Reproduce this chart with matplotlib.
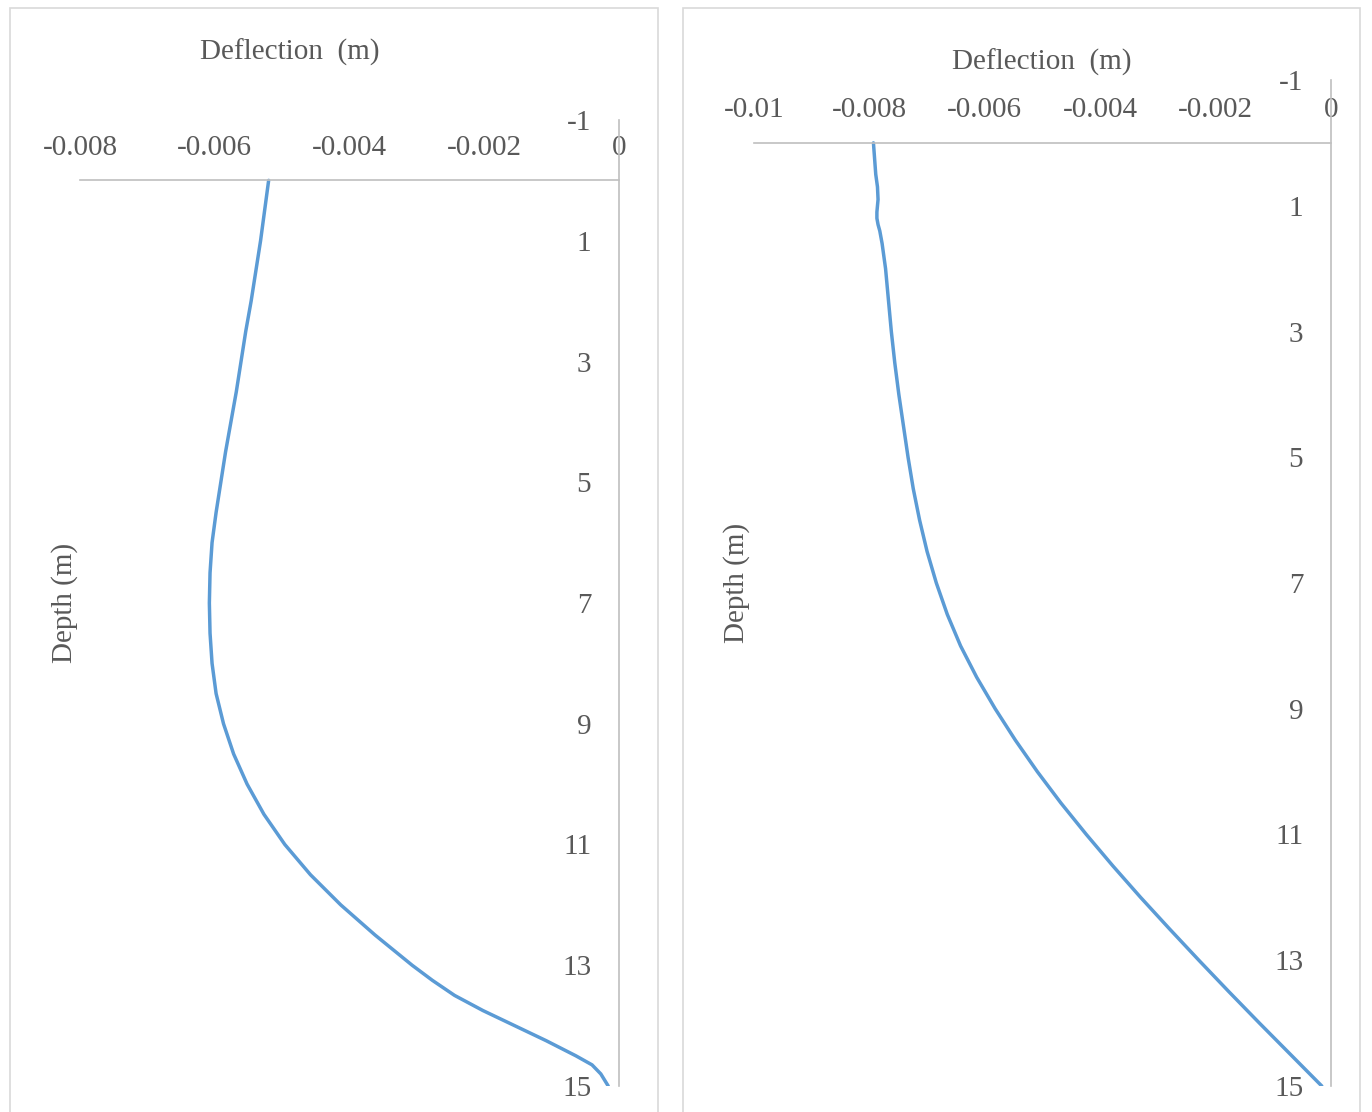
import matplotlib
matplotlib.use("Agg")
import matplotlib.pyplot as plt
from matplotlib.patches import Rectangle

# Pile deflection profiles (deflection in metres, depth in metres)
depth_a = [0, 0.5, 1, 1.5, 2, 2.5, 3, 3.5, 4, 4.5, 5, 5.5, 6, 6.5, 7, 7.5, 8,
           8.5, 9, 9.5, 10, 10.5, 11, 11.5, 12, 12.5, 13, 13.25, 13.5, 13.75,
           14, 14.25, 14.5, 14.65, 14.8, 15]
defl_a = [-0.00520, -0.00526, -0.00532, -0.00539, -0.00546, -0.00554, -0.00561,
          -0.00568, -0.00576, -0.00584, -0.00591, -0.00598, -0.00604, -0.00607,
          -0.00608, -0.00607, -0.00604, -0.00598, -0.00587, -0.00572, -0.00552,
          -0.00527, -0.00496, -0.00458, -0.00413, -0.00362, -0.00307, -0.00277,
          -0.00244, -0.00202, -0.00155, -0.00108, -0.00064, -0.00040, -0.00027,
          -0.00016]

depth_b = [0, 0.5, 0.7, 0.9, 1.0, 1.1, 1.2, 1.3, 1.4, 1.6, 1.8, 2, 2.5, 3, 3.5,
           4, 4.5, 5, 5.5, 6, 6.5, 7, 7.5, 8, 8.5, 9, 9.5, 10, 10.5, 11, 11.5,
           12, 12.5, 13, 13.5, 14, 14.5, 15]
defl_b = [-0.00793, -0.00789, -0.00786, -0.00785, -0.00786, -0.00787, -0.00787,
          -0.00785, -0.00782, -0.00778, -0.00775, -0.00772, -0.00767, -0.00762,
          -0.00756, -0.00749, -0.00741, -0.00733, -0.00724, -0.00713, -0.00700,
          -0.00684, -0.00665, -0.00642, -0.00614, -0.00582, -0.00547, -0.00509,
          -0.00468, -0.00424, -0.00378, -0.00330, -0.00280, -0.00229, -0.00177,
          -0.00124, -0.00070, -0.00016]

xticks_a = [-0.008, -0.006, -0.004, -0.002, 0]
xticks_b = [-0.01, -0.008, -0.006, -0.004, -0.002, 0]
xlabels_a = ["-0.008", "-0.006", "-0.004", "-0.002", "0"]
xlabels_b = ["-0.01", "-0.008", "-0.006", "-0.004", "-0.002", "0"]
yticks = [-1, 1, 3, 5, 7, 9, 11, 13, 15]
ylabels = ["-1", "1", "3", "5", "7", "9", "11", "13", "15"]

plt.rcParams["font.family"] = ["Liberation Serif", "DejaVu Serif"]
TXT = "#595959"
AX = "#bfbfbf"
LINE = "#5b9bd5"
FS = 21

W, H = 1372, 1112
fig = plt.figure(figsize=(W / 100, H / 100), dpi=100)

# chart frames
for x0, x1 in [(10, 658), (683, 1360)]:
    fig.add_artist(Rectangle((x0 / W, -0.05), (x1 - x0) / W, (H - 8) / H + 0.05,
                             transform=fig.transFigure, fill=False,
                             edgecolor="#d9d9d9", linewidth=1.2))


def panel(px0, px1, py_top, py_bot, xmin, depth, defl, xticks, xlabels,
          xlab_pos, ylab_pos):
    ax = fig.add_axes([px0 / W, (H - py_bot) / H, (px1 - px0) / W,
                       (py_bot - py_top) / H])
    ax.plot(defl, depth, color=LINE, linewidth=2.5, solid_capstyle="round",
            solid_joinstyle="round")
    ax.set_xlim(xmin, 0)
    ax.set_ylim(15, -1)
    for s in ("bottom", "right"):
        ax.spines[s].set_visible(False)
    ax.spines["top"].set_position(("data", 0))
    ax.spines["left"].set_position(("data", 0))
    for s in ("top", "left"):
        ax.spines[s].set_color(AX)
        ax.spines[s].set_linewidth(1.2)
    ax.xaxis.tick_top()
    ax.set_xticks(xticks)
    ax.set_xticklabels(xlabels)
    ax.set_yticks(yticks)
    ax.set_yticklabels(ylabels)
    ax.tick_params(axis="x", length=0, pad=14, labelsize=FS, labelcolor=TXT)
    ax.tick_params(axis="y", length=0, pad=20, labelsize=FS, labelcolor=TXT)
    ax.set_xlabel("Deflection  (m)", fontsize=FS, color=TXT)
    ax.xaxis.set_label_position("top")
    ax.xaxis.set_label_coords(*xlab_pos)
    ax.set_ylabel("Depth (m)", fontsize=FS, color=TXT)
    ax.yaxis.set_label_coords(*ylab_pos)
    ax.patch.set_alpha(0)
    return ax


panel(80, 619, 120, 1086, -0.008, depth_a, defl_a, xticks_a, xlabels_a,
      (0.39, 1.062), (-0.003, 0.5))
panel(754, 1331, 80, 1086, -0.01, depth_b, defl_b, xticks_b, xlabels_b,
      (0.499, 1.010), (-0.007, 0.5))

fig.savefig("out.png", dpi=100, facecolor="white")
